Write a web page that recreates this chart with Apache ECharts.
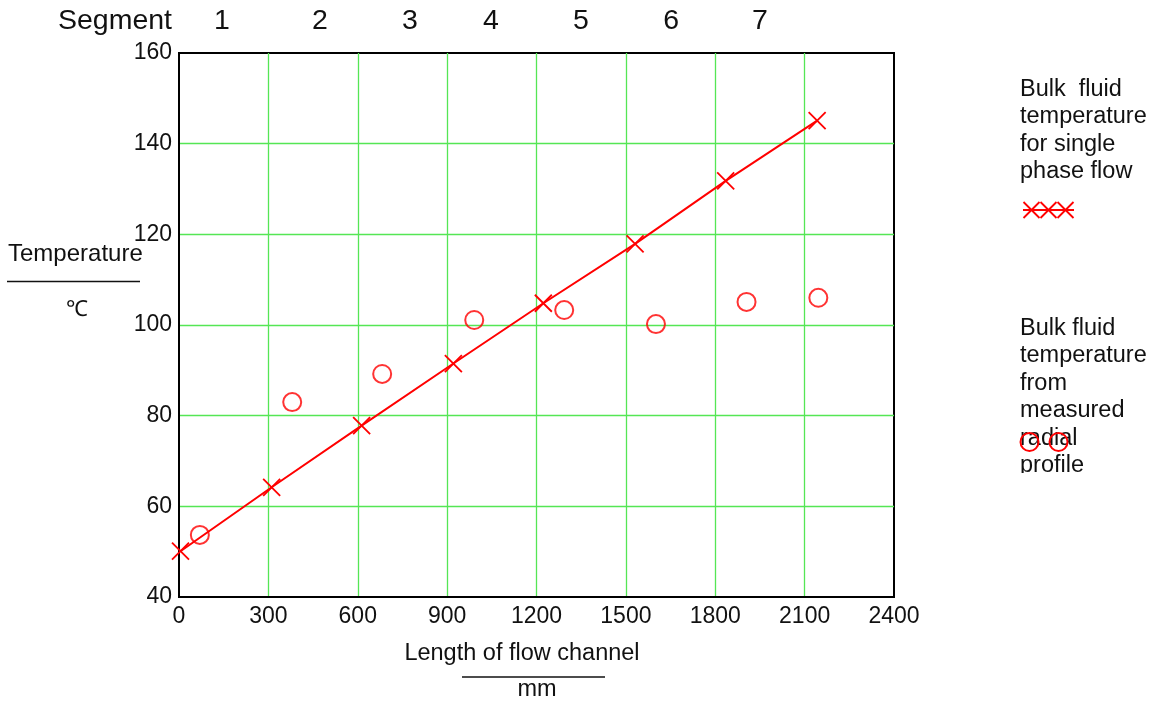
<!DOCTYPE html>
<html>
<head>
<meta charset="utf-8">
<script src="https://cdn.jsdelivr.net/npm/echarts@6/dist/echarts.min.js"></script>
<style>
  html, body { margin: 0; padding: 0; background: #fff; }
  #chart { width: 1154px; height: 702px; }
</style>
</head>
<body>
<div id="chart"></div>
<script>
// Bulk fluid temperature along the flow channel
const singlePhaseLength = [5, 311, 613, 921, 1223, 1531, 1835, 2142];
const singlePhaseTemp = [50.1, 64.2, 77.8, 91.5, 104.8, 117.9, 131.8, 145.1];

const measuredLength = [70, 380, 682, 991, 1293, 1601, 1905, 2146];
const measuredTemp = [53.7, 83.0, 89.2, 101.1, 103.3, 100.2, 105.1, 106.0];

// Segment numbers and the channel length at the middle of each segment
const segmentNumbers = ['1', '2', '3', '4', '5', '6', '7'];
const segmentCentres = [144, 473, 775, 1047, 1349, 1652, 1950];

const FONT = '"Liberation Sans", Arial, Helvetica, sans-serif';
const RED = '#ff0000';
const GRID_GREEN = '#55e655';
const INK = '#111';

const chart = echarts.init(document.getElementById('chart'), null, { renderer: 'canvas' });

const pairs = (xs, ys) => xs.map((x, i) => [x, ys[i]]);

chart.setOption({
  animation: false,
  backgroundColor: '#fff',
  grid: {
    left: 179, right: 260, top: 53, bottom: 105,
    show: true,
    borderColor: '#000',
    borderWidth: 2,
    backgroundColor: 'transparent'
  },
  xAxis: {
    type: 'value',
    min: 0, max: 2400, interval: 300,
    axisLine: { show: true, lineStyle: { color: '#000', width: 2 } },
    axisTick: { show: false },
    axisLabel: {
      color: INK, fontSize: 23, fontFamily: FONT, margin: 8,
      formatter: (v) => String(v)
    },
    splitLine: {
      show: true, showMinLine: false, showMaxLine: false,
      lineStyle: { color: GRID_GREEN, width: 1.3 }
    }
  },
  yAxis: {
    type: 'value',
    min: 40, max: 160, interval: 20,
    axisLine: { show: true, lineStyle: { color: '#000', width: 2 } },
    axisTick: { show: false },
    axisLabel: { color: INK, fontSize: 23, fontFamily: FONT, margin: 7 },
    splitLine: {
      show: true, showMinLine: false, showMaxLine: false,
      lineStyle: { color: GRID_GREEN, width: 1.3 }
    }
  },
  series: [
    {
      name: 'single phase',
      type: 'line',
      data: pairs(singlePhaseLength, singlePhaseTemp),
      symbol: 'path://M0 0L10 10M10 0L0 10',
      symbolSize: 17,
      lineStyle: { color: RED, width: 2 },
      itemStyle: { color: RED, borderColor: RED, borderWidth: 1.8 },
      emphasis: { disabled: true },
      z: 3
    },
    {
      name: 'measured',
      type: 'scatter',
      data: pairs(measuredLength, measuredTemp),
      symbol: 'circle',
      symbolSize: 18,
      itemStyle: { color: 'rgba(0,0,0,0)', borderColor: RED, borderWidth: 2 },
      emphasis: { disabled: true },
      z: 4
    }
  ]
});

// Row of segment numbers above the plot, placed through the x axis scale
const segY = 21;
const segmentTexts = segmentNumbers.map((label, i) => {
  const px = chart.convertToPixel({ xAxisIndex: 0 }, segmentCentres[i]);
  return {
    type: 'text', x: px, y: segY,
    style: { text: label, font: '28.5px ' + FONT, fill: INK, align: 'center', verticalAlign: 'middle' }
  };
});

const crossIcon = (cx, cy, h) => ([
  { type: 'line', shape: { x1: cx - h, y1: cy - h, x2: cx + h, y2: cy + h }, style: { stroke: RED, lineWidth: 1.8 } },
  { type: 'line', shape: { x1: cx - h, y1: cy + h, x2: cx + h, y2: cy - h }, style: { stroke: RED, lineWidth: 1.8 } }
]);

const legendText = (top, text) => ({
  type: 'text', x: 1020, y: top,
  style: { text: text, font: '23.5px ' + FONT, fill: INK, lineHeight: 27.5, align: 'left', verticalAlign: 'top' }
});

chart.setOption({
  graphic: [
    // segment row
    {
      type: 'text', x: 115, y: segY,
      style: { text: 'Segment', font: '28.5px ' + FONT, fill: INK, align: 'center', verticalAlign: 'middle' }
    },
    ...segmentTexts,

    // y axis title as a fraction
    {
      type: 'text', x: 8, y: 254,
      style: { text: 'Temperature', font: '24px ' + FONT, fill: INK, align: 'left', verticalAlign: 'middle' }
    },
    { type: 'line', shape: { x1: 7, y1: 281.5, x2: 140, y2: 281.5 }, style: { stroke: INK, lineWidth: 1.6 } },
    {
      type: 'text', x: 77, y: 310,
      style: { text: '℃', font: '22px ' + FONT, fill: INK, align: 'center', verticalAlign: 'middle' }
    },

    // x axis title as a fraction
    {
      type: 'text', x: 522, y: 654,
      style: { text: 'Length of flow channel', font: '23.5px ' + FONT, fill: INK, align: 'center', verticalAlign: 'middle' }
    },
    { type: 'line', shape: { x1: 462, y1: 677, x2: 605, y2: 677 }, style: { stroke: INK, lineWidth: 1.6 } },
    {
      type: 'text', x: 537, y: 690,
      style: { text: 'mm', font: '23.5px ' + FONT, fill: INK, align: 'center', verticalAlign: 'middle' }
    },

    // legend: single phase flow
    legendText(75.5, 'Bulk  fluid\ntemperature\nfor single\nphase flow'),
    { type: 'line', shape: { x1: 1023, y1: 210, x2: 1074, y2: 210 }, style: { stroke: RED, lineWidth: 1.8 } },
    ...crossIcon(1031.5, 210, 8),
    ...crossIcon(1048.5, 210, 8),
    ...crossIcon(1065.5, 210, 8),

    // legend: measured radial profile, the last line cut off by the frame edge
    legendText(314.5, 'Bulk fluid\ntemperature\nfrom\nmeasured\nradial\nprofile'),
    { type: 'rect', shape: { x: 1010, y: 473, width: 144, height: 30 }, style: { fill: '#fff' }, z: 10 },
    { type: 'circle', shape: { cx: 1029.5, cy: 442, r: 9 }, style: { fill: 'none', stroke: RED, lineWidth: 2 }, z: 11 },
    { type: 'circle', shape: { cx: 1058.5, cy: 442, r: 9 }, style: { fill: 'none', stroke: RED, lineWidth: 2 }, z: 11 }
  ]
});
</script>
</body>
</html>
